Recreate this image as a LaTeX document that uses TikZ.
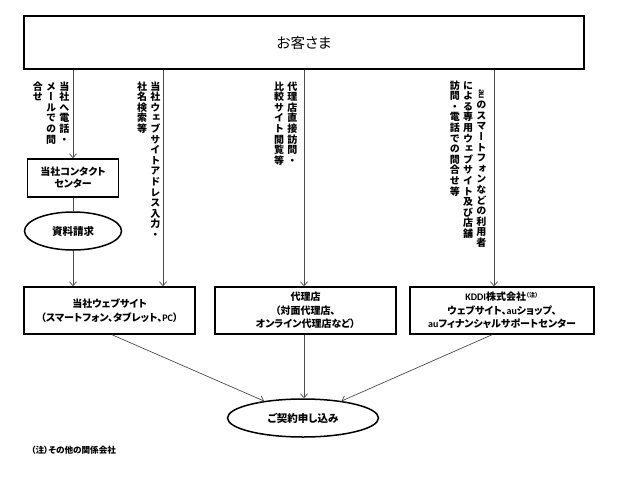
\documentclass[tikz,border=0pt]{standalone}
\usepackage{fontspec}
\usepackage{graphicx}
\usetikzlibrary{arrows.meta,shapes.geometric}
\setmainfont{Noto Sans CJK JP}[RawFeature=+palt]
\newfontfamily\jpv{Noto Sans CJK JP}[RawFeature=+vert]
\newfontfamily\lat{Carlito}
\newcommand\vgap{0.6pt}
\ExplSyntaxOn
\NewDocumentCommand\vcol{m}
 {
  \vtop
   {
    \offinterlineskip
    \tl_map_inline:nn {#1}
     {
      \hbox~to~1em{\hss\vrule~height~.88em~depth~.12em~width~0pt\relax ##1\hss}
      \kern~\vgap\relax
     }
   }
 }
\ExplSyntaxOff
\newcommand\colsep{\hspace{3.2pt}}
\begin{document}
\begin{tikzpicture}[x=1pt,y=-1pt,
  box/.style={draw, line width=1.5pt, inner sep=0pt, align=center, font=\bfseries\fontsize{10}{13.5}\selectfont},
  oval/.style={draw, ellipse, line width=1.5pt, inner sep=0pt, font=\bfseries\fontsize{10.5}{13}\selectfont},
  conn/.style={draw=black!70, line width=0.7pt},
  arr/.style={conn, -{Straight Barb[length=4pt,width=7pt]}},
  vlab/.style={inner sep=0pt, font=\jpv\bfseries\fontsize{10}{10}\selectfont}]
\useasboundingbox (0,0) rectangle (624,480);

\node[box, minimum width=560pt, minimum height=53pt, font=\fontsize{14.5}{16}\selectfont] (top) at (304,42.5) {お客さま};
\node[box, minimum width=91pt, minimum height=38pt, font=\bfseries\fontsize{10}{12}\selectfont] (contact) at (73,178) {当社コンタクト\\センター};
\node[oval, minimum width=97pt, minimum height=38pt] (shiryo) at (73,231) {資料請求};
\node[box, minimum width=171pt, minimum height=47pt] (web) at (109.5,310.5) {当社ウェブサイト\\（スマートフォン、タブレット、{\lat PC}）};
\node[box, minimum width=181pt, minimum height=47pt] (agent) at (305.5,310.5) {代理店\\（対面代理店、\\オンライン代理店など）};
\node[box, minimum width=184pt, minimum height=47pt] (kddi) at (502,310.5) {{\lat KDDI}株式会社\textsuperscript{\fontsize{6}{6}\selectfont （注）}\\ウェブサイト、{\lat au}ショップ、\\{\lat au}フィナンシャルサポートセンター};
\node[oval, minimum width=151pt, minimum height=38pt] (keiyaku) at (303,418) {ご契約申し込み};
\node[inner sep=0pt, anchor=west, font=\bfseries\fontsize{8.6}{9}\selectfont] (note) at (31,450) {（注）その他の関係会社};

\node[vlab, anchor=north east] (l1) at (69.5,81) {\vcol{合せ}\colsep\vcol{メールでの問}\colsep\vcol{当社へ電話・}};
\node[vlab, anchor=north east] (l2) at (160.5,81) {\vcol{社名検索等}\colsep\vcol{当社ウェブサイトアドレス入力・}};
\node[vlab, anchor=north east] (l3) at (297.5,81) {\vcol{比較サイト閲覧等}\colsep\vcol{代理店直接訪問・}};
\node[vlab, anchor=north east] (l4) at (486.5,80) {\vcol{訪問・電話での問合せ等}\colsep\vcol{による専用ウェブサイト及び店舗}\colsep\vcol{{\rotatebox{-90}{\lat au}}のスマートフォンなどの利用者}};

\coordinate (xb) at (163,0);
\coordinate (xc) at (304,0);
\coordinate (xd) at (494,0);
\coordinate (xw) at (112,0);
\coordinate (xk) at (492,0);

\draw[arr] (top.south -| contact.north) -- (contact.north);
\draw[conn] (contact.south) -- (shiryo.north);
\draw[arr] (shiryo.south) -- (web.north -| shiryo.south);
\draw[arr] (top.south -| xb) -- (web.north -| xb);
\draw[arr] (top.south -| xc) -- (agent.north -| xc);
\draw[arr] (top.south -| xd) -- (kddi.north -| xd);
\draw[arr] (web.south -| xw) -- (keiyaku);
\draw[arr] (agent.south -| xc) -- (keiyaku.north -| xc);
\draw[arr] (kddi.south -| xk) -- (keiyaku);
\end{tikzpicture}
\end{document}
